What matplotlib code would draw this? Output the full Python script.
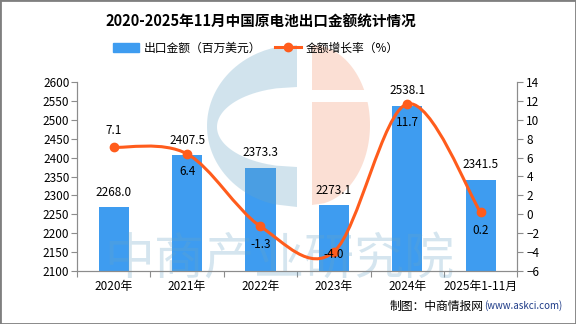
import numpy as np
import matplotlib.pyplot as plt
from matplotlib.path import Path
from matplotlib.patches import PathPatch, Polygon, Rectangle, Patch
from matplotlib.lines import Line2D

plt.rcParams['font.family'] = ['Noto Sans CJK SC', 'DejaVu Sans']

years = ['2020年', '2021年', '2022年', '2023年', '2024年', '2025年1-11月']
export_value = [2268.0, 2407.5, 2373.3, 2273.1, 2538.1, 2341.5]
growth_rate = [7.1, 6.4, -1.3, -4.0, 11.7, 0.2]

BLUE = '#3E9CF0'
ORANGE = '#FF5C1C'
GRAY = '#8C8C8C'

W, H = 576, 324


def px(x, y):
    # pixel position (from top-left) -> figure fraction
    return x / W, 1 - y / H


fig = plt.figure(figsize=(5.76, 3.24), dpi=100)
l, b = px(77, 270.7)
r, t = px(517.3, 82.3)
ax = fig.add_axes([l, b, r - l, t - b])
ax2 = ax.twinx()
ax.set_zorder(0)
ax2.set_zorder(2)
ax2.patch.set_visible(False)

x = np.arange(len(years))

# bars
ax.bar(x, export_value, width=0.41, color=BLUE, zorder=2)
ax.set_xlim(-0.5, len(years) - 0.5)
ax.set_ylim(2100, 2600)
ax.set_yticks(np.arange(2100, 2601, 50))

# smooth growth line (cubic bezier through the points)
pts = np.column_stack([x, growth_rate]).astype(float)
ext = np.vstack([pts[0], pts, pts[-1]])
verts = [tuple(pts[0])]
codes = [Path.MOVETO]
for i in range(len(pts) - 1):
    p0, p1, p2, p3 = ext[i], ext[i + 1], ext[i + 2], ext[i + 3]
    verts += [tuple(p1 + (p2 - p0) / 6), tuple(p2 - (p3 - p1) / 6), tuple(p2)]
    codes += [Path.CURVE4] * 3
ax2.add_patch(PathPatch(Path(verts, codes), fill=False, ec=ORANGE, lw=2.2,
                        capstyle='round', zorder=3))
ax2.plot(x, growth_rate, 'o', color=ORANGE, ms=6, zorder=4)
ax2.set_ylim(-6, 14)
ax2.set_yticks(np.arange(-6, 15, 2))

# labels
for i, v in enumerate(export_value):
    ax2.annotate(f'{v:.1f}', (x[i], v), xycoords=ax.transData,
                 xytext=(0, 6), textcoords='offset points',
                 ha='center', va='bottom', fontsize=8.5, zorder=5)
for i, v in enumerate(growth_rate):
    if i == 0:
        dy = 12
    elif v == -4.0:
        dy = -2
    else:
        dy = -13
    ax2.annotate(f'{v:.1f}', (x[i], v), xytext=(0, dy),
                 textcoords='offset points', ha='center', va='center',
                 fontsize=8.5, zorder=5)

# axes styling
for a in (ax, ax2):
    for s in a.spines.values():
        s.set_color(GRAY)
    a.spines['top'].set_visible(False)
ax.set_xticks(np.arange(-0.5, len(years), 1))
ax.set_xticklabels([])
ax.set_xticks(x, minor=True)
ax.set_xticklabels(years, minor=True)
ax.tick_params(axis='x', which='major', length=4.5, color=GRAY)
ax.tick_params(axis='x', which='minor', length=0, pad=7, labelsize=8.5)
ax.tick_params(axis='y', length=4.5, color=GRAY, pad=1, labelsize=8.5)
ax2.tick_params(axis='y', length=4.5, color=GRAY, pad=2, labelsize=8.5)

# watermark logo
def half_ellipse(cx, cy, rx, ry, y0, y1, side, n=60):
    ys = np.linspace(y0, y1, n)
    xs = cx + side * rx * np.sqrt(np.clip(1 - ((ys - cy) / ry) ** 2, 0, 1))
    return ys, xs

wm_blue = '#69A5C6'
wm_orange = '#F29873'
oy, ox = half_ellipse(297, 126, 90, 81, 45, 207, -1)
iy, ix = half_ellipse(297, 127, 80, 40, 87, 167, -1)
c_shape = [px(a, bb) for a, bb in zip(ox, oy)] + [px(a, bb) for a, bb in zip(ix[::-1], iy[::-1])]
fig.add_artist(Polygon(c_shape, closed=True, transform=fig.transFigure,
                       fc=wm_blue, ec='none', alpha=0.3, zorder=1))
for y0, y1 in [(45, 90), (102, 205)]:
    ys, xs = half_ellipse(312, 125, 58, 80, y0, y1, 1)
    poly = [px(312, y0)] + [px(a, bb) for a, bb in zip(xs, ys)] + [px(312, y1)]
    fig.add_artist(Polygon(poly, closed=True, transform=fig.transFigure,
                           fc=wm_orange, ec='none', alpha=0.3, zorder=1))
fig.text(*px(279, 260), '中商产业研究院', fontsize=36,
         color=wm_blue, alpha=0.28, ha='center', va='center', zorder=1)

# title, legend, source
fig.text(*px(261, 22), '2020-2025年11月中国原电池出口金额统计情况',
         fontsize=10.5, fontweight='bold', ha='center', va='center')
handles = [Patch(color=BLUE),
           Line2D([], [], color=ORANGE, lw=2.2, marker='o', ms=6)]
fig.legend(handles, ['出口金额（百万美元）', '金额增长率（%）'],
           loc='center', bbox_to_anchor=px(256, 48), ncol=2, frameon=False,
           fontsize=8.5, handlelength=2.2, handleheight=0.8,
           columnspacing=1.2, handletextpad=0.4)
fig.text(*px(484, 306), '制图：中商情报网', fontsize=8.5, ha='right', va='center')
fig.text(*px(484, 306), '(www.askci.com)', fontsize=7, color='#1F3C88',
         ha='left', va='center')

fig.add_artist(Rectangle((0, 0), 1, 1, transform=fig.transFigure, fill=False,
                         ec='#7F7F7F', lw=2))

fig.savefig('out.png', dpi=100, facecolor='white')
